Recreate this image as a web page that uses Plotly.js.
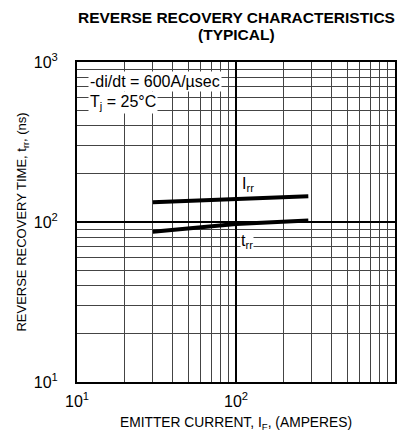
<!DOCTYPE html>
<html>
<head>
<meta charset="utf-8">
<script src="https://cdn.plot.ly/plotly-3.0.1.min.js"></script>
<style>html,body{margin:0;padding:0;background:#fff;}#chart{width:406px;height:432px;}</style>
</head>
<body>
<div id="chart"></div>
<script>
var emitterCurrent = [30, 100, 285];
var irrValues = [133, 139, 145];
var trrValues = [87, 97, 102];
var majorTickVals = [10, 100, 1000];
var majorTickText = ["10<sup>1</sup>", "10<sup>2</sup>", "10<sup>3</sup>"];
var minorGridVals = [20, 30, 40, 50, 60, 70, 80, 90, 200, 300, 400, 500, 600, 700, 800, 900];

var font = "Liberation Sans, Arial, sans-serif";
var traces = [
  {x: emitterCurrent, y: irrValues, mode: "lines", line: {color: "#000", width: 4}, hoverinfo: "skip"},
  {x: emitterCurrent, y: trrValues, mode: "lines", line: {color: "#000", width: 4}, hoverinfo: "skip"}
];
function axis(extra) {
  return Object.assign({
    type: "log", range: [1, 3],
    showline: true, mirror: true, linecolor: "#000", linewidth: 2,
    showgrid: true, gridcolor: "#000", gridwidth: 2,
    ticks: "", zeroline: false,
    tickmode: "array", tickvals: majorTickVals, ticktext: majorTickText,
    minor: {tickmode: "array", tickvals: minorGridVals, showgrid: true, gridcolor: "#444", gridwidth: 1.2, ticks: ""},
    tickfont: {family: font, size: 16, color: "#000"}
  }, extra);
}
var layout = {
  width: 406, height: 432,
  margin: {l: 77, r: 11, t: 62, b: 50},
  paper_bgcolor: "#fff", plot_bgcolor: "#fff",
  showlegend: false,
  xaxis: axis({ticklabelstandoff: 4, title: {text: "EMITTER CURRENT, I<sub>F</sub>, (AMPERES)", font: {family: font, size: 13.8, color: "#000"}, standoff: 8}}),
  yaxis: axis({ticklabelstandoff: 14, title: {text: "REVERSE RECOVERY TIME, t<sub>rr</sub>, (ns)", font: {family: font, size: 13, color: "#000"}, standoff: 4}}),
  annotations: [
    {xref: "paper", yref: "paper", x: 0.5, y: 1.1406, xanchor: "center", yanchor: "middle", text: "<b>REVERSE RECOVERY CHARACTERISTICS</b>", showarrow: false, font: {family: font, size: 15.5, color: "#000"}, borderpad: 0},
    {xref: "paper", yref: "paper", x: 0.5, y: 1.0875, xanchor: "center", yanchor: "middle", text: "<b>(TYPICAL)</b>", showarrow: false, font: {family: font, size: 15.5, color: "#000"}, borderpad: 0},
    {xref: "paper", yref: "paper", x: 0.036, y: 0.94, xanchor: "left", yanchor: "middle", text: "-di/dt = 600A/µsec", showarrow: false, bgcolor: "#fff", font: {family: font, size: 16, color: "#000"}, borderpad: 1},
    {xref: "paper", yref: "paper", x: 0.036, y: 0.872, xanchor: "left", yanchor: "middle", text: "T<sub>j</sub> = 25°C", showarrow: false, bgcolor: "#fff", font: {family: font, size: 16, color: "#000"}, borderpad: 1},
    {xref: "x", yref: "y", x: Math.log10(108), y: Math.log10(172), xanchor: "left", yanchor: "middle", text: "I<sub>rr</sub>", showarrow: false, bgcolor: "#fff", font: {family: font, size: 16, color: "#000"}, borderpad: 0},
    {xref: "x", yref: "y", x: Math.log10(106), y: Math.log10(76), xanchor: "left", yanchor: "middle", text: "t<sub>rr</sub>", showarrow: false, bgcolor: "#fff", font: {family: font, size: 16, color: "#000"}, borderpad: 0}
  ]
};
Plotly.newPlot("chart", traces, layout, {staticPlot: true, displayModeBar: false});
</script>
</body>
</html>
